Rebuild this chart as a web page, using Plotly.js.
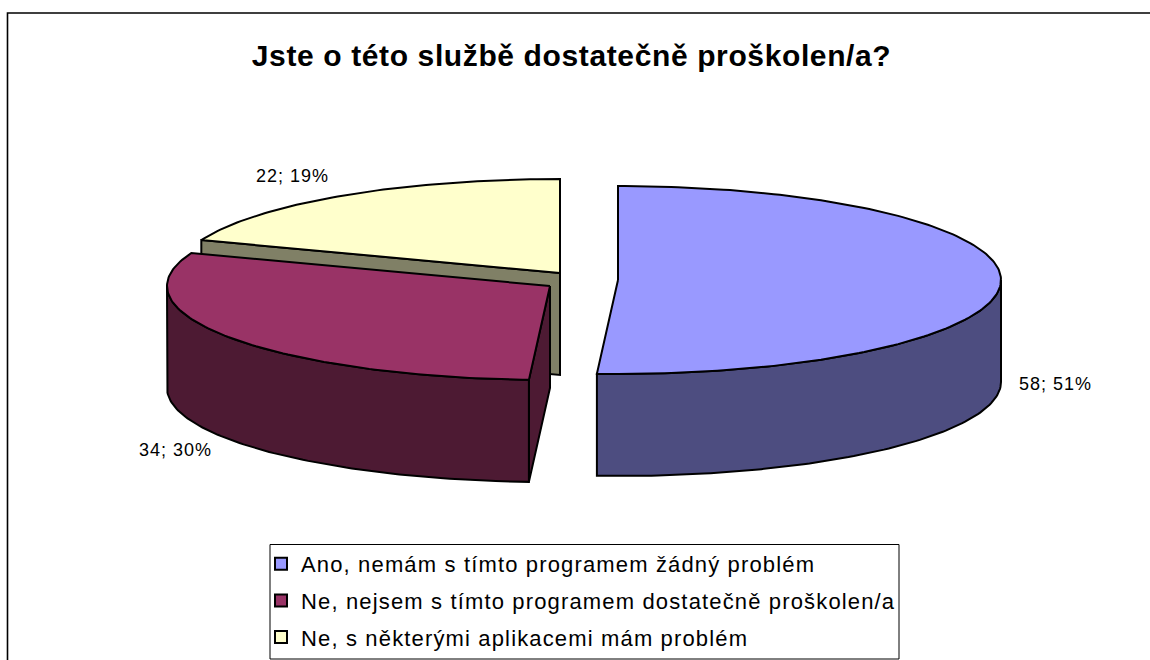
<!DOCTYPE html>
<html><head><meta charset="utf-8">
<script src="https://cdn.plot.ly/plotly-3.0.1.min.js"></script>
<style>html,body{margin:0;padding:0;background:#fff}
.legendtext{letter-spacing:1.15px}
.annotation-text{letter-spacing:1px}
.gtitle{letter-spacing:0.62px}
</style></head><body><div id="c" style="width:1150px;height:660px"></div>
<script>
const chartTitle = "Jste o této službě dostatečně proškolen/a?";
const categories = ["Ano, nemám s tímto programem žádný problém","Ne, nejsem s tímto programem dostatečně proškolen/a","Ne, s některými aplikacemi mám problém"];
const values = [58,34,22];
const topColors = ["#9999FF","#993366","#FFFFCC"];
const sideColors = ["#4D4D80","#4D1A33","#808066"];
const apexX = [618,550,560];
const apexY = [280,286,273];
const labelX = [1055,175,292];
const labelY = [384,450,176];

const RX=383, RY=94, DEPTH=102, STEP=1;
const total = values.reduce((a,b)=>a+b,0);
const pt=(i,deg,dz=0)=>{const r=deg*Math.PI/180;return [apexX[i]+RX*Math.sin(r),apexY[i]-RY*Math.cos(r)+dz];};
const arc=(i,a,b,dz=0)=>{const o=[];for(let d=a;d<b;d+=STEP)o.push(pt(i,d,dz));o.push(pt(i,b,dz));return o;};
const poly=(pts,color,group)=>{const c=pts.concat([pts[0]]);return {type:'scatter',mode:'lines',x:c.map(p=>p[0]),y:c.map(p=>p[1]),fill:'toself',fillcolor:color,line:{color:'#000',width:2},showlegend:false,hoverinfo:'skip',legendgroup:group};};

let acc=0; const start=[],end=[];
values.forEach(v=>{start.push(acc/total*360);acc+=v;end.push(acc/total*360);});

const traces=[];
const flat=(i,deg)=>{const p=pt(i,deg);return [[apexX[i],apexY[i]],p,[p[0],p[1]+DEPTH],[apexX[i],apexY[i]+DEPTH]];};
traces.push(poly(flat(2,end[2]),sideColors[2],categories[2]));
traces.push(poly(flat(2,start[2]),sideColors[2],categories[2]));
traces.push(poly([[apexX[2],apexY[2]]].concat(arc(2,start[2],end[2])),topColors[2],categories[2]));
const rim=(i,a,b)=>arc(i,a,b).concat(arc(i,a,b,DEPTH).reverse());
traces.push(poly(rim(0,90,end[0]),sideColors[0],categories[0]));
traces.push(poly([[apexX[0],apexY[0]]].concat(arc(0,start[0],end[0])),topColors[0],categories[0]));
traces.push(poly(flat(1,start[1]),sideColors[1],categories[1]));
traces.push(poly(rim(1,start[1],270),sideColors[1],categories[1]));
traces.push(poly([[apexX[1],apexY[1]]].concat(arc(1,start[1],end[1])),topColors[1],categories[1]));
categories.forEach((c,i)=>traces.push({type:'scatter',mode:'markers',x:[null],y:[null],name:c,legendgroup:c,
  marker:{symbol:'square',size:12,color:topColors[i],line:{color:'#000',width:2}},hoverinfo:'skip'}));

const labelFont={family:'"Liberation Sans",Arial,sans-serif',size:18,color:'#000'};
const layout={
 width:1150,height:660,margin:{l:0,r:0,t:0,b:0},paper_bgcolor:'#fff',plot_bgcolor:'#fff',
 title:{text:'<b>'+chartTitle+'</b>',font:{family:'"Liberation Sans",Arial,sans-serif',size:30,color:'#000'},x:0.497,xanchor:'center',y:0.916,yanchor:'middle'},
 xaxis:{range:[0,1150],visible:false,fixedrange:true},
 yaxis:{range:[660,0],visible:false,fixedrange:true},
 showlegend:true,
 legend:{x:261/1150,xanchor:'left',y:1-543/660,yanchor:'top',traceorder:'grouped',tracegroupgap:5,bgcolor:'rgba(0,0,0,0)',borderwidth:0,font:{family:'"Liberation Sans",Arial,sans-serif',size:22,color:'#000'},itemclick:false,itemdoubleclick:false},
 shapes:[
  {type:'rect',xref:'x',yref:'y',x0:270,x1:899,y0:544.5,y1:659,line:{color:'#000',width:1},fillcolor:'#fff',layer:'below'},
  {type:'path',xref:'x',yref:'y',path:'M7.5,660 L7.5,13 L1150,13',line:{color:'#000',width:1.6},layer:'below'}
 ],
 annotations:values.map((v,i)=>({xref:'x',yref:'y',x:labelX[i],y:labelY[i],showarrow:false,xanchor:'center',yanchor:'middle',font:labelFont,
   text:v+'; '+Math.round(v/total*100)+'%'}))
};
Plotly.newPlot('c',traces,layout,{displayModeBar:false});
</script></body></html>
